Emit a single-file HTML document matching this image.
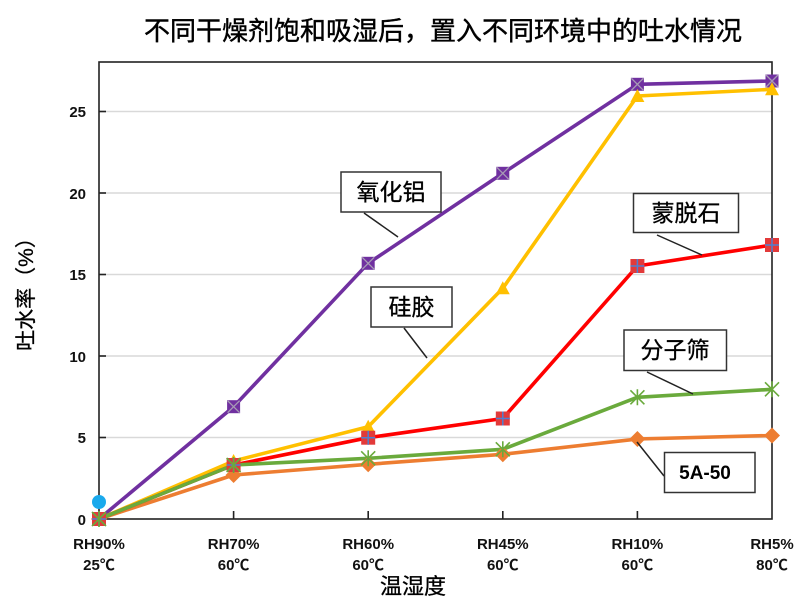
<!DOCTYPE html>
<html>
<head>
<meta charset="utf-8">
<style>
html,body{margin:0;padding:0;background:#fff;}
svg{display:block;}
.cj{font-family:"Liberation Sans","Noto Sans CJK SC",sans-serif;}
.tk{font-family:"Liberation Sans","Noto Sans CJK SC",sans-serif;font-weight:bold;font-size:15px;fill:#111;}
</style>
</head>
<body>
<svg width="800" height="613" viewBox="0 0 800 613" xmlns="http://www.w3.org/2000/svg">
<rect width="800" height="613" fill="#fff"/>
<!-- Title -->
<text x="443" y="40" text-anchor="middle" class="cj" font-size="26" fill="#000" stroke="#000" stroke-width="0.4">不同干燥剂饱和吸湿后，置入不同环境中的吐水情况</text>

<!-- gridlines -->
<g stroke="#d9d9d9" stroke-width="1.5">
<line x1="99" y1="437.5" x2="772" y2="437.5"/>
<line x1="99" y1="356" x2="772" y2="356"/>
<line x1="99" y1="274.5" x2="772" y2="274.5"/>
<line x1="99" y1="193" x2="772" y2="193"/>
<line x1="99" y1="111.5" x2="772" y2="111.5"/>
</g>
<!-- plot frame -->
<rect x="99" y="62" width="673" height="457" fill="none" stroke="#222" stroke-width="1.6"/>
<!-- y ticks -->
<g stroke="#222" stroke-width="1.6">
<line x1="99" y1="437.5" x2="106" y2="437.5"/>
<line x1="99" y1="356" x2="106" y2="356"/>
<line x1="99" y1="274.5" x2="106" y2="274.5"/>
<line x1="99" y1="193" x2="106" y2="193"/>
<line x1="99" y1="111.5" x2="106" y2="111.5"/>
<line x1="233.6" y1="511" x2="233.6" y2="519"/>
<line x1="368.2" y1="511" x2="368.2" y2="519"/>
<line x1="502.8" y1="511" x2="502.8" y2="519"/>
<line x1="637.4" y1="511" x2="637.4" y2="519"/>
</g>
<!-- y tick labels -->
<g class="tk" text-anchor="end">
<text x="86" y="525">0</text>
<text x="86" y="443">5</text>
<text x="86" y="362">10</text>
<text x="86" y="280">15</text>
<text x="86" y="199">20</text>
<text x="86" y="117">25</text>
</g>
<!-- x tick labels -->
<g class="tk" text-anchor="middle">
<text x="99" y="549">RH90%</text><text x="99" y="570">25℃</text>
<text x="233.6" y="549">RH70%</text><text x="233.6" y="570">60℃</text>
<text x="368.2" y="549">RH60%</text><text x="368.2" y="570">60℃</text>
<text x="502.8" y="549">RH45%</text><text x="502.8" y="570">60℃</text>
<text x="637.4" y="549">RH10%</text><text x="637.4" y="570">60℃</text>
<text x="772" y="549">RH5%</text><text x="772" y="570">80℃</text>
</g>
<!-- axis titles -->
<text x="413" y="594" text-anchor="middle" class="cj" font-size="22" fill="#000" stroke="#000" stroke-width="0.3">温湿度</text>
<text transform="translate(33,289) rotate(-90)" text-anchor="middle" class="cj" font-size="21" fill="#000" stroke="#000" stroke-width="0.3">吐水率（%）</text>

<!-- series lines -->
<g fill="none" stroke-width="3.6" stroke-linejoin="round">
<polyline stroke="#ed7d31" points="99,519 233.6,475 368.2,464.3 502.8,454.3 637.4,439 772,435.5"/>
<polyline stroke="#7030a0" points="99,519 233.6,406.7 368.2,263.3 502.8,173.3 637.4,84.3 772,81"/>
<polyline stroke="#ffc000" points="99,519 233.6,461 368.2,426.7 502.8,288.3 637.4,96 772,89.3"/>
<polyline stroke="#ff0000" points="99,519 233.6,465 368.2,437.7 502.8,418.5 637.4,266 772,245"/>
<polyline stroke="#6aaa3c" points="99,519 233.6,465 368.2,458.3 502.8,449.3 637.4,397.3 772,389.3"/>
</g>

<!-- orange diamonds -->
<g fill="#ed7d31">
<polygon points="99,511 107,519 99,527 91,519"/>
<polygon points="233.6,467 241.6,475 233.6,483 225.6,475"/>
<polygon points="368.2,456.3 376.2,464.3 368.2,472.3 360.2,464.3"/>
<polygon points="502.8,446.3 510.8,454.3 502.8,462.3 494.8,454.3"/>
<polygon points="637.4,431 645.4,439 637.4,447 629.4,439"/>
<polygon points="772,427.5 780,435.5 772,443.5 764,435.5"/>
</g>
<!-- purple squares with X -->
<g>
<g transform="translate(99,519)"><rect x="-6.5" y="-6.5" width="13" height="13" fill="#7030a0"/><path d="M-6,-6L6,6M6,-6L-6,6" stroke="#a79bb5" stroke-width="1.3"/></g>
<g transform="translate(233.6,406.7)"><rect x="-6.5" y="-6.5" width="13" height="13" fill="#7030a0"/><path d="M-6,-6L6,6M6,-6L-6,6" stroke="#a79bb5" stroke-width="1.3"/></g>
<g transform="translate(368.2,263.3)"><rect x="-6.5" y="-6.5" width="13" height="13" fill="#7030a0"/><path d="M-6,-6L6,6M6,-6L-6,6" stroke="#a79bb5" stroke-width="1.3"/></g>
<g transform="translate(502.8,173.3)"><rect x="-6.5" y="-6.5" width="13" height="13" fill="#7030a0"/><path d="M-6,-6L6,6M6,-6L-6,6" stroke="#a79bb5" stroke-width="1.3"/></g>
<g transform="translate(637.4,84.3)"><rect x="-6.5" y="-6.5" width="13" height="13" fill="#7030a0"/><path d="M-6,-6L6,6M6,-6L-6,6" stroke="#a79bb5" stroke-width="1.3"/></g>
<g transform="translate(772,81)"><rect x="-6.5" y="-6.5" width="13" height="13" fill="#7030a0"/><path d="M-6,-6L6,6M6,-6L-6,6" stroke="#a79bb5" stroke-width="1.3"/></g>
</g>
<!-- yellow triangles -->
<g fill="#ffc000">
<polygon points="99,512 106,525 92,525"/>
<polygon points="233.6,454 240.6,467 226.6,467"/>
<polygon points="368.2,419.7 375.2,432.7 361.2,432.7"/>
<polygon points="502.8,281.3 509.8,294.3 495.8,294.3"/>
<polygon points="637.4,89 644.4,102 630.4,102"/>
<polygon points="772,82.3 779,95.3 765,95.3"/>
</g>
<!-- red squares with blue plus -->
<g>
<g transform="translate(99,519)"><rect x="-7" y="-7" width="14" height="14" fill="#e23a3a"/><path d="M0,-7V7M-7,0H7" stroke="#4f7fd0" stroke-width="1.5"/></g>
<g transform="translate(233.6,465)"><rect x="-7" y="-7" width="14" height="14" fill="#e23a3a"/><path d="M0,-7V7M-7,0H7" stroke="#4f7fd0" stroke-width="1.5"/></g>
<g transform="translate(368.2,437.7)"><rect x="-7" y="-7" width="14" height="14" fill="#e23a3a"/><path d="M0,-7V7M-7,0H7" stroke="#4f7fd0" stroke-width="1.5"/></g>
<g transform="translate(502.8,418.5)"><rect x="-7" y="-7" width="14" height="14" fill="#e23a3a"/><path d="M0,-7V7M-7,0H7" stroke="#4f7fd0" stroke-width="1.5"/></g>
<g transform="translate(637.4,266)"><rect x="-7" y="-7" width="14" height="14" fill="#e23a3a"/><path d="M0,-7V7M-7,0H7" stroke="#4f7fd0" stroke-width="1.5"/></g>
<g transform="translate(772,245)"><rect x="-7" y="-7" width="14" height="14" fill="#e23a3a"/><path d="M0,-7V7M-7,0H7" stroke="#4f7fd0" stroke-width="1.5"/></g>
</g>
<!-- green asterisks -->
<g stroke="#6aaa3c" stroke-width="1.6">
<g transform="translate(99,519)"><path d="M-7,-7L7,7M7,-7L-7,7M0,-8V8"/></g>
<g transform="translate(233.6,465)"><path d="M-7,-7L7,7M7,-7L-7,7M0,-8V8"/></g>
<g transform="translate(368.2,458.3)"><path d="M-7,-7L7,7M7,-7L-7,7M0,-8V8"/></g>
<g transform="translate(502.8,449.3)"><path d="M-7,-7L7,7M7,-7L-7,7M0,-8V8"/></g>
<g transform="translate(637.4,397.3)"><path d="M-7,-7L7,7M7,-7L-7,7M0,-8V8"/></g>
<g transform="translate(772,389.3)"><path d="M-7,-7L7,7M7,-7L-7,7M0,-8V8"/></g>
</g>

<!-- blue dot -->
<circle cx="99" cy="502" r="7" fill="#1aa9ec"/>

<!-- callouts -->
<g stroke="#222" stroke-width="1.5">
<line x1="364" y1="213" x2="398" y2="237"/>
<line x1="404" y1="328" x2="427" y2="358"/>
<line x1="657" y1="235" x2="702" y2="255"/>
<line x1="647" y1="372" x2="693" y2="394"/>
<line x1="637" y1="442" x2="664" y2="476"/>
</g>
<g fill="#fff" stroke="#333" stroke-width="1.5">
<rect x="341" y="172" width="100" height="40"/>
<rect x="371" y="287" width="81" height="40"/>
<rect x="633.5" y="193.5" width="105" height="39"/>
<rect x="624" y="330" width="102.5" height="40.5"/>
<rect x="664.5" y="452.5" width="90.5" height="40"/>
</g>
<g class="cj" font-size="23" fill="#000" stroke="#000" stroke-width="0.3" text-anchor="middle">
<text x="391" y="200">氧化铝</text>
<text x="411.5" y="315">硅胶</text>
<text x="686" y="221">蒙脱石</text>
<text x="675" y="358">分子筛</text>
</g>
<text x="705" y="479" text-anchor="middle" font-family="Liberation Sans, sans-serif" font-weight="bold" font-size="19" fill="#000">5A-50</text>
</svg>
</body>
</html>
